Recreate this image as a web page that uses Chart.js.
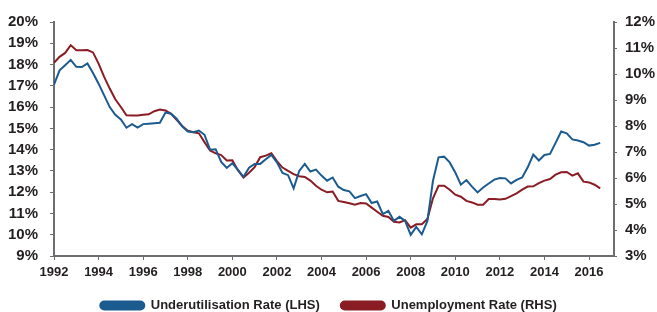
<!DOCTYPE html>
<html>
<head>
<meta charset="utf-8">
<script src="https://cdn.jsdelivr.net/npm/chart.js@4"></script>
<style>
  html, body { margin: 0; padding: 0; background: #fff; }
  #wrap { width: 657px; height: 312px; overflow: hidden; }
</style>
</head>
<body>
<div id="wrap"><canvas id="chart" width="657" height="322"></canvas></div>
<script>
// quarterly, first value is 1992 Q1
const startYear = 1992;

const underutilisation = [
  17.05, 17.73, 17.97, 18.22, 17.89, 17.88, 18.05, 17.6, 17.1, 16.55,
  16.0, 15.64, 15.42, 15.03, 15.2, 15.04, 15.2, 15.22, 15.24, 15.26,
  15.74, 15.69, 15.45, 15.1, 14.85, 14.82, 14.9, 14.7, 14.0, 14.02,
  13.42, 13.14, 13.36, 13.05, 12.72, 13.15, 13.33, 13.33, 13.55, 13.75,
  13.4, 12.9, 12.8, 12.18, 13.0, 13.33, 12.97, 13.06, 12.78, 12.54,
  12.69, 12.26, 12.1, 12.04, 11.72, 11.82, 11.91, 11.49, 11.56, 10.97,
  11.12, 10.65, 10.84, 10.65, 9.99, 10.37, 10.02, 10.65, 12.54, 13.64,
  13.67, 13.4, 12.93, 12.35, 12.57, 12.26, 11.99, 12.22, 12.41, 12.59,
  12.67, 12.65, 12.41, 12.58, 12.69, 13.17, 13.77, 13.49, 13.75, 13.8,
  14.32, 14.85, 14.77, 14.48, 14.43, 14.35, 14.19, 14.23, 14.32
];

const unemployment = [
  10.43, 10.66, 10.81, 11.11, 10.91, 10.91, 10.92, 10.83, 10.4, 9.89,
  9.44, 9.03, 8.73, 8.41, 8.4, 8.4, 8.43, 8.45, 8.57, 8.63,
  8.6, 8.47, 8.24, 8.0, 7.82, 7.76, 7.72, 7.38, 7.06, 6.95,
  6.88, 6.67, 6.68, 6.3, 6.02, 6.2, 6.42, 6.8, 6.86, 6.95,
  6.65, 6.4, 6.27, 6.15, 6.07, 6.04, 5.9, 5.7, 5.55, 5.45,
  5.48, 5.12, 5.08, 5.03, 4.97, 5.04, 5.02, 4.86, 4.7, 4.55,
  4.5, 4.32, 4.29, 4.38, 4.09, 4.22, 4.22, 4.42, 5.22, 5.7,
  5.7, 5.55, 5.36, 5.28, 5.12, 5.06, 4.97, 4.97, 5.19, 5.19,
  5.17, 5.2, 5.3, 5.41, 5.55, 5.67, 5.68, 5.8, 5.9, 5.96,
  6.13, 6.22, 6.23, 6.09, 6.18, 5.86, 5.83, 5.74, 5.6
];

const leftTicks = [9, 20];   // LHS range, %
const rightTicks = [3, 12];  // RHS range, %

const blue = '#1c5b8f';
const red = '#8a1c24';
const axisGrey = '#6d6e71';
const textColor = '#231f20';
const fontFamily = 'Liberation Sans, Arial, sans-serif';

function toPoints(values) {
  return values.map((v, i) => ({ x: startYear + i / 4, y: v }));
}

const ctx = document.getElementById('chart').getContext('2d');
new Chart(ctx, {
  type: 'line',
  data: {
    datasets: [{
      label: 'Underutilisation Rate (LHS)',
      data: toPoints(underutilisation),
      borderColor: blue,
      backgroundColor: blue,
      borderWidth: 2,
      pointRadius: 0,
      yAxisID: 'y'
    }, {
      label: 'Unemployment Rate (RHS)',
      data: toPoints(unemployment),
      borderColor: red,
      backgroundColor: red,
      borderWidth: 2,
      pointRadius: 0,
      yAxisID: 'y1'
    }]
  },
  options: {
    responsive: false,
    animation: false,
    layout: { padding: { top: 22, left: 0, right: 0, bottom: 0 } },
    plugins: {
      tooltip: { enabled: false },
      legend: {
        position: 'bottom',
        labels: {
          color: textColor,
          font: { family: fontFamily, size: 13, weight: 'bold' },
          boxWidth: 44,
          boxHeight: 8,
          useBorderRadius: true,
          borderRadius: 4,
          padding: 21
        }
      }
    },
    scales: {
      x: {
        type: 'linear',
        min: 1992,
        max: 2017.12,
        afterFit: s => { s.height = 22; },
        border: { color: axisGrey, width: 2 },
        grid: { drawOnChartArea: false, tickLength: 4, color: axisGrey },
        ticks: {
          stepSize: 2,
          includeBounds: false,
          maxRotation: 0,
          padding: 5,
          color: textColor,
          font: { family: fontFamily, size: 13, weight: 'bold' },
          callback: v => String(v)
        }
      },
      y: {
        position: 'left',
        min: leftTicks[0],
        max: leftTicks[1],
        afterFit: s => { s.width = 54; },
        border: { color: axisGrey, width: 2 },
        grid: { drawOnChartArea: false, tickLength: 4, color: axisGrey },
        ticks: {
          stepSize: 1,
          autoSkip: false,
          padding: 12,
          color: textColor,
          font: { family: fontFamily, size: 15, weight: 'bold' },
          callback: v => v + '%'
        }
      },
      y1: {
        position: 'right',
        min: rightTicks[0],
        max: rightTicks[1],
        afterFit: s => { s.width = 43; },
        border: { color: axisGrey, width: 2 },
        grid: { drawOnChartArea: false, tickLength: 3, color: axisGrey },
        ticks: {
          stepSize: 1,
          autoSkip: false,
          padding: 8,
          color: textColor,
          font: { family: fontFamily, size: 15, weight: 'bold' },
          callback: v => v + '%'
        }
      }
    }
  }
});
</script>
</body>
</html>
